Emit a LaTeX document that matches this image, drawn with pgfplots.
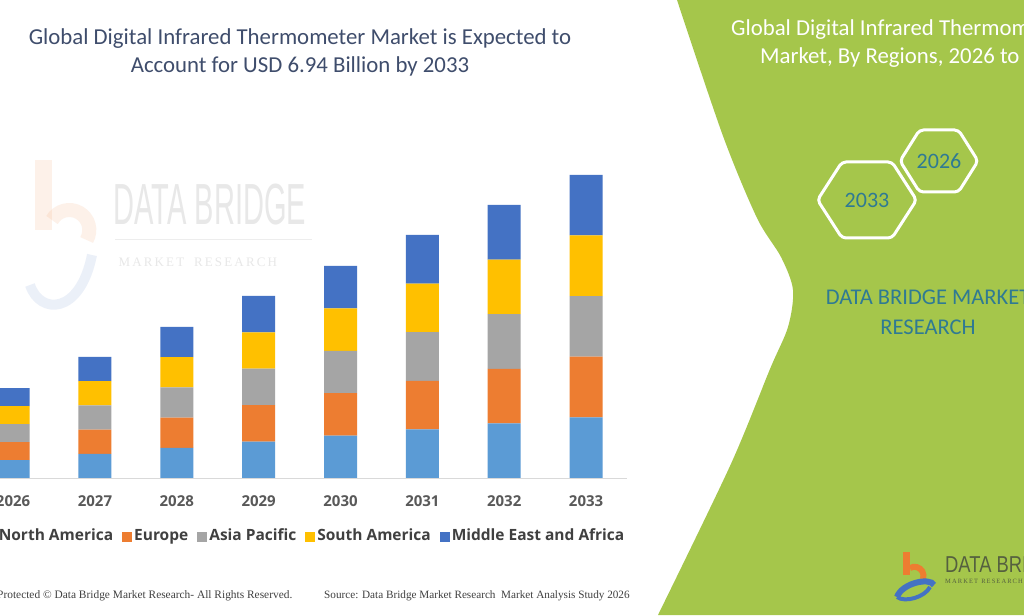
\documentclass[border=0pt]{standalone}
\usepackage{pgfplots}
\pgfplotsset{compat=1.18}
\usepackage{fontspec}
\setmainfont{Carlito}
\newfontfamily\osans{Open Sans}
\newfontfamily\lserif{Liberation Serif}
\newfontfamily\lsans{Liberation Sans}
\definecolor{cNA}{HTML}{5B9BD5}
\definecolor{cEU}{HTML}{ED7D31}
\definecolor{cAP}{HTML}{A5A5A5}
\definecolor{cSA}{HTML}{FFC000}
\definecolor{cME}{HTML}{4472C4}
\definecolor{titlec}{HTML}{3F4D6C}
\definecolor{greenp}{HTML}{A5C64B}
\definecolor{tealc}{HTML}{2F7A93}
\definecolor{tickc}{HTML}{595959}
\definecolor{legc}{HTML}{404040}
\definecolor{logot}{HTML}{55603F}

\pgfplotstableread{
x NA EU AP SA ME
0 0.412 0.412 0.412 0.412 0.412
1 0.554 0.554 0.554 0.554 0.554
2 0.692 0.692 0.692 0.692 0.692
3 0.834 0.834 0.834 0.834 0.834
4 0.971 0.971 0.971 0.971 0.971
5 1.113 1.113 1.113 1.113 1.113
6 1.250 1.250 1.250 1.250 1.250
7 1.388 1.388 1.388 1.388 1.388
}\datatable

\begin{document}
\begin{tikzpicture}
\path[use as bounding box] (0pt,0pt) rectangle (1024pt,615pt);
\clip (0pt,0pt) rectangle (1024pt,615pt);
\fill[white] (0pt,0pt) rectangle (1024pt,615pt);
% green panel
\fill[greenp] plot[smooth, tension=0.5] coordinates {(677pt,615pt) (723pt,479pt) (757pt,397pt) (781pt,358pt) (793pt,325pt) (788pt,288pt) (770pt,246pt) (730pt,149pt) (658pt,0pt)} -- (1024pt,0pt) -- (1024pt,615pt) -- cycle;

% faint watermark
\begin{scope}[opacity=0.10]
\fill[cEU] (35pt,455pt) rectangle (52pt,385pt);
\draw[cEU, line width=14pt] (52pt,395pt) arc[start angle=150, end angle=-30, radius=20pt];
\draw[cME, line width=10pt] (30pt,330pt) .. controls (40pt,300pt) and (80pt,300pt) .. (92pt,360pt);
\end{scope}
\node[anchor=west, text=black!9, font=\lsans\fontsize{58}{60}\selectfont, xscale=0.5] at (112pt,410pt) {DATA BRIDGE};
\draw[black!7, line width=1pt] (115pt,375pt) -- (312pt,375pt);
\node[anchor=west, text=black!9, font=\lserif\fontsize{13}{14}\selectfont] at (115pt,353pt) {M\,A\,R\,K\,E\,T\ \ \ R\,E\,S\,E\,A\,R\,C\,H};

\begin{axis}[
  at={(0pt,137pt)}, anchor=south west,
  scale only axis, width=627pt, height=318pt,
  xmin=-0.16, xmax=7.5, ymin=0, ymax=7.28,
  ybar stacked, bar width=33pt,
  axis x line*=bottom, axis y line=none,
  x axis line style={draw=black!15, line width=0.8pt},
  xtick={0,...,7},
  xticklabels={2026,2027,2028,2029,2030,2031,2032,2033},
  xtick style={draw=none},
  xticklabel style={font=\osans\bfseries\fontsize{15}{17}\selectfont, text=tickc, yshift=-14pt},
  ytick=\empty,
  legend image code/.code={\fill[#1] (0pt,-5pt) rectangle (10pt,5pt);},
  legend columns=5,
  legend style={at={(1.004,-0.1855)}, anchor=east, draw=none, fill=none,
    font=\osans\bfseries\fontsize{15.5}{17}\selectfont, text=legc,
    nodes={text height=11pt, text depth=4pt},
    /tikz/every even column/.append style={column sep=7pt}},
]
\addplot[fill=cNA, draw=none] table[x=x, y=NA] {\datatable};
\addplot[fill=cEU, draw=none] table[x=x, y=EU] {\datatable};
\addplot[fill=cAP, draw=none] table[x=x, y=AP] {\datatable};
\addplot[fill=cSA, draw=none] table[x=x, y=SA] {\datatable};
\addplot[fill=cME, draw=none] table[x=x, y=ME] {\datatable};
\legend{North America, Europe, Asia Pacific, South America, Middle East and Africa}
\end{axis}

% title
\node[align=center, text=titlec, font=\fontsize{22.8}{28}\selectfont] at (300pt,563pt) {Global Digital Infrared Thermometer Market is Expected to\\Account for USD 6.94 Billion by 2033};

% right panel texts
\node[anchor=west, text=white, font=\fontsize{22.8}{28}\selectfont, inner sep=0pt] at (731pt,585pt) {Global Digital Infrared Thermometer};
\node[anchor=west, text=white, font=\fontsize{22.8}{28}\selectfont, inner sep=0pt] at (760pt,557pt) {Market, By Regions, 2026 to 2033};

% hexagons
\draw[white, line width=3pt, rounded corners=4pt] (900pt,454pt) -- (919.5pt,485pt) -- (958.5pt,485pt) -- (978pt,454pt) -- (958.5pt,423pt) -- (919.5pt,423pt) -- cycle;
\draw[white, line width=3pt, rounded corners=4pt] (817.5pt,415pt) -- (842pt,453pt) -- (892pt,453pt) -- (916.5pt,415pt) -- (892pt,377pt) -- (842pt,377pt) -- cycle;
\node[text=tealc, font=\fontsize{22}{24}\selectfont] at (939pt,454pt) {2026};
\node[text=tealc, font=\fontsize{22}{24}\selectfont] at (867pt,415pt) {2033};

\node[align=center, text=tealc, font=\fontsize{22.5}{30}\selectfont] at (928pt,303pt) {DATA BRIDGE MARKET\\RESEARCH};

% bottom-right logo
\fill[cEU] (903pt,63pt) rectangle (910pt,40pt);
\draw[cEU, line width=6pt] (910pt,47pt) arc[start angle=120, end angle=-20, radius=9pt];
\draw[cME, line width=6pt] (897pt,18pt) .. controls (902pt,32pt) and (930pt,38pt) .. (934pt,30pt);
\draw[cME, line width=4pt] (897pt,18pt) .. controls (905pt,12pt) and (925pt,18pt) .. (930pt,28pt);
\node[anchor=west, text=logot, font=\lsans\fontsize{23}{25}\selectfont, xscale=0.8, inner sep=0pt] at (945pt,50pt) {DATA BRIDGE};
\node[anchor=west, text=logot, font=\lserif\fontsize{6.5}{7}\selectfont, inner sep=0pt] at (945pt,34pt) {M\,A\,R\,K\,E\,T\ \ R\,E\,S\,E\,A\,R\,C\,H};

% footer
\node[anchor=west, text=legc, font=\lserif\fontsize{11.4}{13}\selectfont, inner sep=0pt] at (-3pt,19pt) {Protected \textcopyright{} Data Bridge Market Research- All Rights Reserved.};
\node[anchor=west, text=legc, font=\lserif\fontsize{11.2}{13}\selectfont, inner sep=0pt] at (324pt,19pt) {Source: Data Bridge Market Research\ \ Market Analysis Study 2026};
\end{tikzpicture}
\end{document}
